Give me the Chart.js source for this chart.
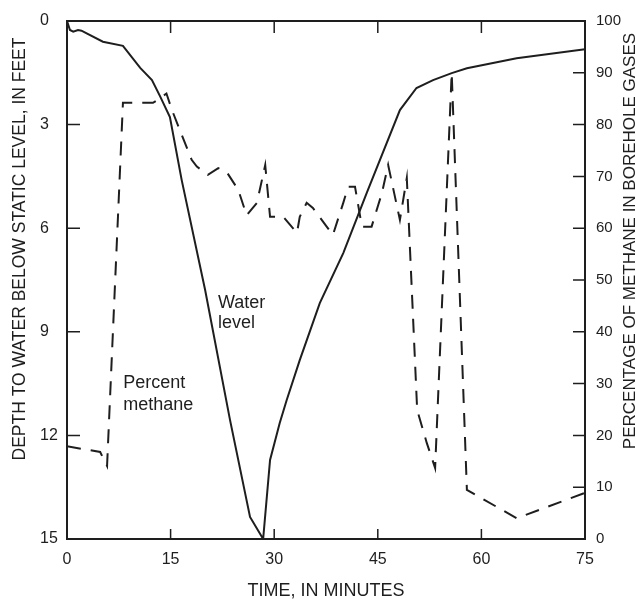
<!DOCTYPE html>
<html>
<head>
<meta charset="utf-8">
<script src="https://cdn.jsdelivr.net/npm/chart.js@4.4.1/dist/chart.umd.min.js"></script>
<style>
  html, body { margin: 0; padding: 0; background: #fff; }
  #c { display: block; }
</style>
</head>
<body>
<canvas id="c" width="636" height="600"></canvas>
<script>
// ---- data ----
const waterTime  = [0, 0.43, 0.9, 1.6, 2.1, 2.85, 5.2, 8.1, 10.6, 12.3, 13.5, 14.9, 16.6, 20.0, 23.6, 26.5, 28.4, 29.4, 30.8, 31.8, 33.7, 36.6, 40.0, 43.4, 48.2, 50.6, 53.0, 55.7, 57.9, 65.1, 75];
const waterDepth = [0, 0.26, 0.31, 0.26, 0.28, 0.36, 0.6, 0.72, 1.36, 1.71, 2.19, 2.78, 4.6, 7.79, 11.55, 14.36, 15.0, 12.71, 11.64, 10.98, 9.82, 8.17, 6.72, 4.98, 2.58, 1.94, 1.71, 1.51, 1.37, 1.08, 0.82];

const methaneTime    = [0, 4.8, 5.8, 8.1, 12.45, 13.5, 14.4, 15.2, 16.8, 18.05, 18.8, 20.4, 21.9, 23.1, 24.8, 26.0, 27.5, 28.7, 29.4, 31.3, 33.3, 33.7, 34.7, 35.6, 37.6, 38.5, 40.0, 40.7, 41.7, 42.7, 44.1, 45.6, 46.5, 48.2, 49.2, 50.7, 52.1, 53.3, 55.7, 57.9, 65.1, 75];
const methanePercent = [17.9, 16.8, 14.1, 84.2, 84.2, 85.1, 86.0, 82.8, 77.4, 73.2, 71.9, 70.3, 71.6, 70.9, 67.4, 62.5, 64.9, 72.2, 62.2, 62.2, 59.1, 62.2, 64.9, 63.9, 60.3, 58.7, 64.9, 68.0, 68.0, 60.3, 60.3, 66.8, 72.2, 61.6, 69.7, 24.9, 18.5, 13.7, 90.0, 9.5, 4.0, 8.9];

const timeTicks    = [0, 15, 30, 45, 60, 75];
const depthTicks   = [0, 3, 6, 9, 12, 15];
const percentTicks = [0, 10, 20, 30, 40, 50, 60, 70, 80, 90, 100];

const xTitle  = 'TIME, IN MINUTES';
const yTitle  = 'DEPTH TO WATER BELOW STATIC LEVEL, IN FEET';
const y1Title = 'PERCENTAGE OF METHANE IN BOREHOLE GASES';
const labelWater   = ['Water', 'level'];
const labelMethane = ['Percent', 'methane'];

// ---- build datasets ----
const waterData = waterTime.map((t, i) => ({ x: t, y: waterDepth[i] }));
const methaneData = methaneTime.map((t, i) => ({ x: t, y: methanePercent[i] }));

const INK = '#1e1e1e';
const FONT = 'Liberation Sans, Arial, Helvetica, sans-serif';

const frameAndTicks = {
  id: 'frameAndTicks',
  afterDraw(chart) {
    const ctx = chart.ctx;
    const a = chart.chartArea;
    const sx = chart.scales.x, sy = chart.scales.y, sy1 = chart.scales.y1;
    ctx.save();
    ctx.strokeStyle = INK;
    ctx.lineWidth = 2;
    ctx.strokeRect(a.left, a.top, a.right - a.left, a.bottom - a.top);
    ctx.lineWidth = 1.5;
    const L = 12;
    ctx.beginPath();
    timeTicks.forEach(v => {
      if (v === sx.min || v === sx.max) return;
      const px = sx.getPixelForValue(v);
      ctx.moveTo(px, a.bottom); ctx.lineTo(px, a.bottom - L + 2);
      ctx.moveTo(px, a.top); ctx.lineTo(px, a.top + L);
    });
    depthTicks.forEach(v => {
      if (v === sy.min || v === sy.max) return;
      const py = sy.getPixelForValue(v);
      ctx.moveTo(a.left, py); ctx.lineTo(a.left + L + 1, py);
    });
    percentTicks.forEach(v => {
      if (v === sy1.min || v === sy1.max) return;
      const py = sy1.getPixelForValue(v);
      ctx.moveTo(a.right, py); ctx.lineTo(a.right - L, py);
    });
    ctx.stroke();

    // axis titles
    ctx.fillStyle = INK;
    ctx.textAlign = 'center';
    ctx.textBaseline = 'middle';
    ctx.font = '18px ' + FONT;
    ctx.fillText(xTitle, (a.left + a.right) / 2, a.bottom + 52);
    ctx.save();
    ctx.translate(a.left - 47, a.top + 228);
    ctx.rotate(-Math.PI / 2);
    ctx.font = '17.5px ' + FONT;
    ctx.fillText(yTitle, 0, 0);
    ctx.restore();
    ctx.save();
    ctx.translate(a.right + 45, a.top + 220);
    ctx.rotate(-Math.PI / 2);
    ctx.font = '17px ' + FONT;
    ctx.fillText(y1Title, 0, 0);
    ctx.restore();

    // in-plot labels
    ctx.font = '18px ' + FONT;
    ctx.textAlign = 'left';
    ctx.textBaseline = 'alphabetic';
    const wx = sx.getPixelForValue(21.85), wy = sy.getPixelForValue(8.3);
    ctx.fillText(labelWater[0], wx, wy);
    ctx.fillText(labelWater[1], wx, wy + 20);
    const mx = sx.getPixelForValue(8.15), my = sy.getPixelForValue(10.63);
    ctx.fillText(labelMethane[0], mx, my);
    ctx.fillText(labelMethane[1], mx, my + 22);
    ctx.restore();
  }
};

new Chart(document.getElementById('c'), {
  type: 'line',
  data: {
    datasets: [
      {
        label: 'Water level',
        data: waterData,
        yAxisID: 'y',
        borderColor: INK,
        borderWidth: 2,
        pointRadius: 0,
        tension: 0,
        fill: false
      },
      {
        label: 'Percent methane',
        data: methaneData,
        yAxisID: 'y1',
        borderColor: INK,
        borderWidth: 2,
        borderDash: [14, 10],
        pointRadius: 0,
        tension: 0,
        fill: false
      }
    ]
  },
  options: {
    responsive: false,
    devicePixelRatio: 1,
    animation: false,
    events: [],
    layout: { padding: { top: 21, left: 40, right: 0, bottom: 0 } },
    plugins: { legend: { display: false }, tooltip: { enabled: false }, title: { display: false } },
    scales: {
      x: {
        type: 'linear', position: 'bottom', min: 0, max: 75,
        afterBuildTicks: s => { s.ticks = timeTicks.map(v => ({ value: v })); },
        afterFit: s => { s.height = 61; },
        grid: { display: false, drawTicks: false },
        border: { display: false },
        ticks: { color: INK, font: { size: 16, family: FONT }, padding: 11, maxRotation: 0, autoSkip: false }
      },
      y: {
        type: 'linear', position: 'left', reverse: true, min: 0, max: 15,
        afterBuildTicks: s => { s.ticks = depthTicks.map(v => ({ value: v })); },
        afterFit: s => { s.width = 27; },
        grid: { display: false, drawTicks: false },
        border: { display: false },
        ticks: { color: INK, font: { size: 16, family: FONT }, padding: 8, crossAlign: 'far', autoSkip: false }
      },
      y1: {
        type: 'linear', position: 'right', min: 0, max: 100,
        afterBuildTicks: s => { s.ticks = percentTicks.map(v => ({ value: v })); },
        afterFit: s => { s.width = 51; },
        grid: { display: false, drawTicks: false },
        border: { display: false },
        ticks: { color: INK, font: { size: 15, family: FONT }, padding: 11, autoSkip: false }
      }
    }
  },
  plugins: [frameAndTicks]
});
</script>
</body>
</html>
